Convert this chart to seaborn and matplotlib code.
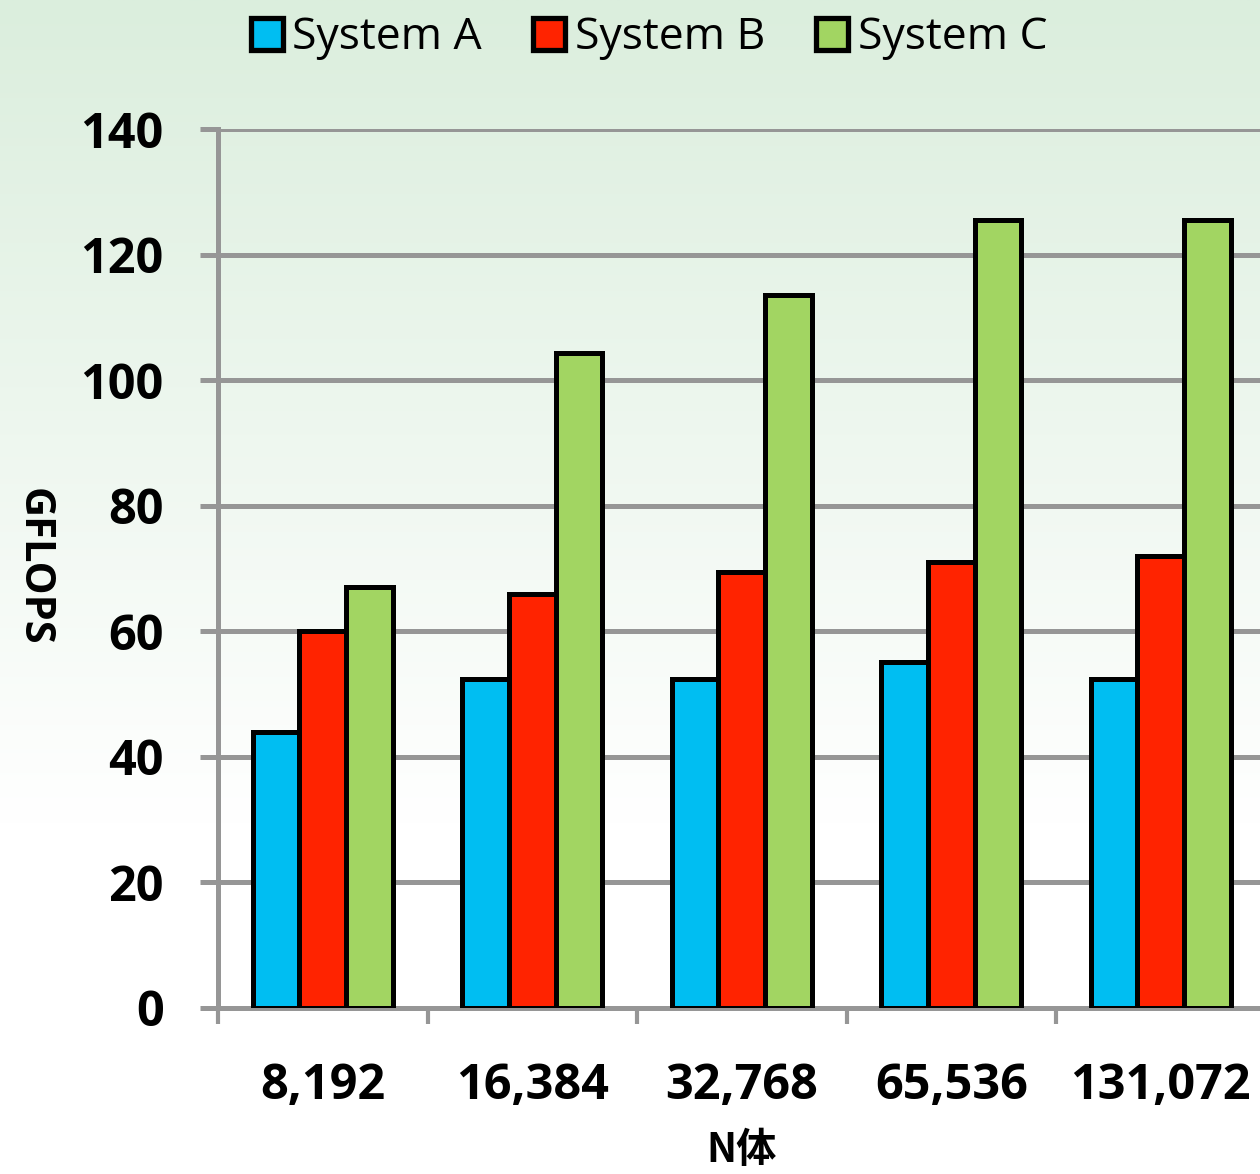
import numpy as np
import pandas as pd
import matplotlib
matplotlib.use("Agg")
import matplotlib.pyplot as plt
from matplotlib.ticker import FixedLocator
import seaborn as sns

# Problem sizes (number of bodies) and measured performance per system
sizes = ["8,192", "16,384", "32,768", "65,536", "131,072"]
systems = ["System A", "System B", "System C"]
system_a = [44.0, 52.4, 52.4, 55.1, 52.4]
system_b = [60.0, 66.0, 69.4, 71.0, 72.0]
system_c = [67.0, 104.3, 113.5, 125.5, 125.5]
yticks = [0, 20, 40, 60, 80, 100, 120, 140]

colors = ["#00bef2", "#ff2300", "#a2d562"]

df = pd.DataFrame({
    "N": sizes * 3,
    "System": [s for s in systems for _ in sizes],
    "GFLOPS": system_a + system_b + system_c,
})

sns.set_theme(style="white")
plt.rcParams["font.family"] = ["Open Sans", "Noto Sans CJK JP", "DejaVu Sans"]
plt.rcParams["text.color"] = "black"

W, H = 1260, 1174
fig = plt.figure(figsize=(W / 100, H / 100), dpi=100)

# Soft green-to-white vertical gradient behind everything
bg = fig.add_axes([0, 0, 1, 1], zorder=-10)
rows = np.linspace(0, 1, 400)[:, None]
t = np.clip(rows / 0.70, 0, 1)
top = np.array([219, 238, 221]) / 255.0
grad = top[None, None, :] * (1 - t[..., None]) + np.ones(3)[None, None, :] * t[..., None]
grad = np.repeat(grad, 2, axis=1)
bg.imshow(grad, aspect="auto", extent=[0, 1, 0, 1], origin="upper")
bg.set_axis_off()

# Main plot area: left spine at x=218px, baseline at y=1008px, 140 at y=129px
left = 218 / W
bottom = (H - 1008) / H
height = (1008 - 129) / H
width = 5 * 209.5 / W
ax = fig.add_axes([left, bottom, width, height])
ax.set_facecolor("none")

sns.barplot(
    data=df, x="N", y="GFLOPS", hue="System", palette=colors,
    saturation=1, width=0.67, gap=0, edgecolor="black", linewidth=3.6,
    ax=ax, zorder=3,
)

handles, labels = ax.get_legend_handles_labels()
if ax.get_legend() is not None:
    ax.get_legend().remove()

grid_color = "#969696"
ax.set_xlim(-0.5, 4.5)
ax.set_ylim(0, 140)
ax.yaxis.set_major_locator(FixedLocator(yticks))
ax.set_axisbelow(True)
ax.yaxis.grid(True, color=grid_color, linewidth=3.6)
ax.xaxis.grid(False)

for side in ["top", "right"]:
    ax.spines[side].set_visible(False)
for side in ["left", "bottom"]:
    ax.spines[side].set_color(grid_color)
    ax.spines[side].set_linewidth(3.6)

# Category labels centred, tick marks between groups
ax.set_xticks(range(len(sizes)))
ax.set_xticklabels(sizes)
ax.xaxis.set_minor_locator(FixedLocator(np.arange(-0.5, 5.0, 1.0)))
ax.tick_params(axis="x", which="major", length=0, pad=39,
               labelsize=35, labelcolor="black")
ax.tick_params(axis="x", which="minor", bottom=True, length=11.5, width=3,
               color=grid_color, direction="out")
ax.tick_params(axis="y", which="major", left=True, length=13, width=3.6,
               color=grid_color, direction="out", pad=26,
               labelsize=35, labelcolor="black")
for lab in ax.get_xticklabels() + ax.get_yticklabels():
    lab.set_fontweight("bold")

ax.set_xlabel("")
ax.set_ylabel("")

fig.text(33 / W, 1 - 567 / H, "GFLOPS", rotation=270, fontsize=30,
         fontweight="bold", ha="center", va="center", color="black")
fig.text(742 / W, 1 - 1150 / H, "N体", fontsize=29, fontweight="bold",
         ha="center", va="center", color="black",
         family=["Noto Sans CJK JP", "DejaVu Sans"])

for h in handles:
    h.set_edgecolor("black")
    h.set_linewidth(3.8)
fig.legend(handles, labels, loc="center", bbox_to_anchor=(649 / W, 1 - 38 / H),
           ncol=3, frameon=False, fontsize=32, handlelength=0.72,
           handleheight=0.72, handletextpad=0.22, columnspacing=1.15,
           borderpad=0, labelcolor="black")

fig.savefig("out.png", dpi=100)
